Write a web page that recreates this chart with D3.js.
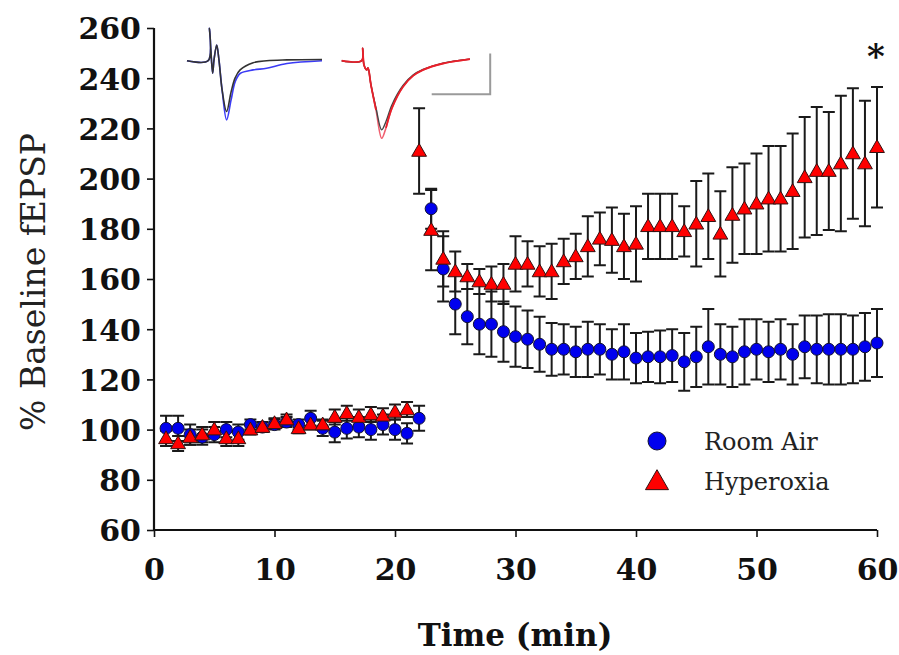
<!DOCTYPE html>
<html>
<head>
<meta charset="utf-8">
<script src="https://cdn.jsdelivr.net/npm/d3@7"></script>
<style>
  html, body { margin: 0; padding: 0; background: #fff; }
  svg { display: block; }
</style>
</head>
<body>
<svg id="chart" width="899" height="655"></svg>
<script>
// ---------------- DATA ----------------
const timeMin = [1,2,3,4,5,6,7,8,9,10,11,12,13,14,15,16,17,18,19,20,
  21,22,23,24,25,26,27,28,29,30,31,32,33,34,35,36,37,38,39,40,
  41,42,43,44,45,46,47,48,49,50,51,52,53,54,55,56,57,58,59,60];

const roomAirMean = [100.5,100.5,98,97,98,100,99,102,101,102,
  103,102,104.5,100.5,99,100.5,101,100,102,100,
  98.5,104.5,188,164,150,145,142,142,139,137,
  136,134,132,132,131,132,132,130,131,128.5,
  129,129,129.5,127,129,133,130,129,131,132,
  131,132,130,133,132,132,132,132,133,134.5];
const roomAirSem = [5,5,4,3,3,3,3,2,2,2,
  2,2,3,3,4,4,4,4,4,4,
  4,5,8,13,12,11,12,13,12,12,
  11.5,11,10.5,10,10,11,10,10,11,10,
  10,10.5,10.5,11.5,12,15,12,12,13,12,
  12,12,12,12.5,13.5,14,14,13.5,13.5,13.5];

const hyperoxiaMean = [96.5,94.5,97,98,100,96.5,96.5,100,101,102.5,
  104,100.5,102,102,105,106.5,105,106,105.5,107,
  108,211,179.5,168,163,161,159,158,158,166,
  166,163,163,167,169,173,176,175.5,173,174,
  181,181,181,179,182,185,178,185.5,188,190,
  192,192,195,200.5,203,203,206,210,206,212.5];
const hyperoxiaSem = [3,3,3,3,3,3,3,2,2,2,
  2,2,2,2,3,3,3,3,3,3,
  3,17,16,11,8,5,5,7,8,11,
  9,10,11,9,9,12,10.5,13,13,15,
  13,13,13,10,17,17,17,19,18,20,
  21,21,23,24,25.5,23.5,27,26,25,24];

const xTicks = [0,10,20,30,40,50,60];
const yTicks = [60,80,100,120,140,160,180,200,220,240,260];
const seriesNames = ["Room Air","Hyperoxia"];

// Inset example traces (time in ms, amplitude in mV)
const insetRAt   = [0,4.7,5.0,5.3,5.7,6.0,6.6,7.1,7.8,8.8,9.8,10.7,11.8,14.7,17.7,22.2,30];
const insetRAblue  = [0,0,0.81,0.27,-0.31,0.02,0.39,0.02,-0.73,-1.48,-0.98,-0.53,-0.32,-0.23,-0.19,-0.07,0];
const insetRAblack = [0,0,0.81,0.27,-0.31,0.02,0.39,0.02,-0.73,-1.27,-0.78,-0.43,-0.23,-0.05,0,0.02,0.03];
const insetHOt   = [0,4.44,4.67,4.96,5.56,5.84,6.51,7.62,8.89,9.84,11.18,13.62,15.84,18.07,22.51,28.5];
const insetHOred   = [0,0,0.31,-0.11,-0.23,-0.18,-0.61,-1.23,-1.94,-1.68,-1.18,-0.65,-0.38,-0.23,-0.07,0.04];
const insetHOblack = [0,0,0.31,-0.11,-0.23,-0.18,-0.61,-1.18,-1.73,-1.52,-1.10,-0.62,-0.36,-0.22,-0.06,0.04];

// ---------------- CHART ----------------
const svg = d3.select("#chart");
const x = d3.scaleLinear().domain([0,60]).range([154,877]);
const y = d3.scaleLinear().domain([60,260]).range([530,28]);

const serif = "'DejaVu Serif', 'Liberation Serif', serif";

// axes
const yAxis = d3.axisLeft(y).tickValues(yTicks).tickSize(7).tickPadding(6).tickFormat(d3.format("d"));
const xAxis = d3.axisBottom(x).tickValues(xTicks).tickSize(7).tickPadding(22).tickFormat(d3.format("d"));

const gy = svg.append("g").attr("transform", "translate(154,0)").call(yAxis);
const gx = svg.append("g").attr("transform", "translate(0,530)").call(xAxis);
[gx, gy].forEach(g => {
  g.select(".domain").attr("stroke", "#111").attr("stroke-width", 2.2);
  g.selectAll(".tick line").attr("stroke", "#111").attr("stroke-width", 1.6);
  g.selectAll(".tick text").attr("fill", "#111")
    .style("font-family", serif).style("font-weight", "bold").style("font-size", "30px");
});
gy.select(".domain").attr("d", "M0,530V28");
gx.select(".domain").attr("d", "M154,0H877");
gy.selectAll(".tick text").attr("dy", "0.36em");

// axis titles
svg.append("text")
  .attr("transform", "translate(45,282) rotate(-90)")
  .attr("text-anchor", "middle")
  .style("font-family", serif).style("font-size", "33px").attr("fill", "#222")
  .text("% Baseline fEPSP");
svg.append("text")
  .attr("x", 515).attr("y", 646)
  .attr("text-anchor", "middle")
  .style("font-family", serif).style("font-weight", "bold").style("font-size", "31px").attr("fill", "#111")
  .text("Time (min)");

// data series
const ra = timeMin.map((t,i) => ({t, m: roomAirMean[i], s: roomAirSem[i]}));
const ho = timeMin.map((t,i) => ({t, m: hyperoxiaMean[i], s: hyperoxiaSem[i]}));
const capW = 6;

function errorBars(data, cls) {
  const g = svg.append("g").attr("class", cls)
    .attr("stroke", "#1a1a1a").attr("stroke-width", 2).attr("fill", "none");
  g.selectAll("path").data(data).join("path")
    .attr("d", d => {
      const cx = x(d.t), y1 = y(d.m + d.s), y2 = y(d.m - d.s);
      return `M${cx},${y1}V${y2}M${cx-capW},${y1}H${cx+capW}M${cx-capW},${y2}H${cx+capW}`;
    });
}
errorBars(ho, "err-ho");
errorBars(ra, "err-ra");

const tri = d3.symbol().type(d3.symbolTriangle).size(95);
svg.append("g").selectAll("circle").data(ra).join("circle")
  .attr("cx", d => x(d.t)).attr("cy", d => y(d.m)).attr("r", 6)
  .attr("fill", "#0000ee").attr("stroke", "#111133").attr("stroke-width", 1);
svg.append("g").selectAll("path").data(ho).join("path")
  .attr("d", tri)
  .attr("transform", d => `translate(${x(d.t)},${y(d.m)+1})`)
  .attr("fill", "#ff0000").attr("stroke", "#331111").attr("stroke-width", 1);

// legend
const leg = svg.append("g");
leg.append("circle").attr("cx", 657).attr("cy", 441).attr("r", 9)
  .attr("fill", "#0000ee").attr("stroke", "#111133").attr("stroke-width", 1);
leg.append("path").attr("d", d3.symbol().type(d3.symbolTriangle).size(230))
  .attr("transform", "translate(657,483)")
  .attr("fill", "#ff0000").attr("stroke", "#331111").attr("stroke-width", 1);
leg.selectAll("text").data(seriesNames).join("text")
  .attr("x", 704).attr("y", (d,i) => 450 + i*40)
  .style("font-family", serif).style("font-size", "24px").attr("fill", "#222")
  .text(d => d);

// significance asterisk
svg.append("text").attr("x", 876).attr("y", 68).attr("text-anchor", "middle")
  .style("font-family", serif).style("font-weight", "bold").style("font-size", "34px").attr("fill", "#111")
  .text("*");

// insets
const ixL = d3.scaleLinear().domain([0,30]).range([187,322]);
const ixR = d3.scaleLinear().domain([0,30]).range([341.7,476.7]);
const iy = d3.scaleLinear().domain([0,-1]).range([60.7,100.7]);
function trace(xs, ts, vs, color, w) {
  const line = d3.line().x((d,i) => xs(ts[i])).y(d => iy(d)).curve(d3.curveCatmullRom.alpha(0.5));
  svg.append("path").attr("d", line(vs)).attr("fill","none")
    .attr("stroke", color).attr("stroke-width", w).attr("stroke-linejoin","round");
}
trace(ixL, insetRAt, insetRAblue, "#3b3bf5", 1.6);
trace(ixL, insetRAt, insetRAblack, "#333", 1.6);
trace(ixR, insetHOt, insetHOred, "#f06070", 1.6);
trace(ixR, insetHOt, insetHOblack, "#444", 1.4);
trace(ixR, insetHOt.slice(0,8), insetHOred.slice(0,8), "#e8202a", 1.8);
trace(ixR, insetHOt.slice(9), insetHOred.slice(9), "#e8202a", 1.8);
// scale bar (L shape: vertical on the right, horizontal along the bottom)
svg.append("path")
  .attr("d", `M${ixR(33)},${iy(0.18)}V${iy(-0.84)}H${ixR(20)}`)
  .attr("fill","none").attr("stroke","#9a9a9a").attr("stroke-width",2);
</script>
</body>
</html>
